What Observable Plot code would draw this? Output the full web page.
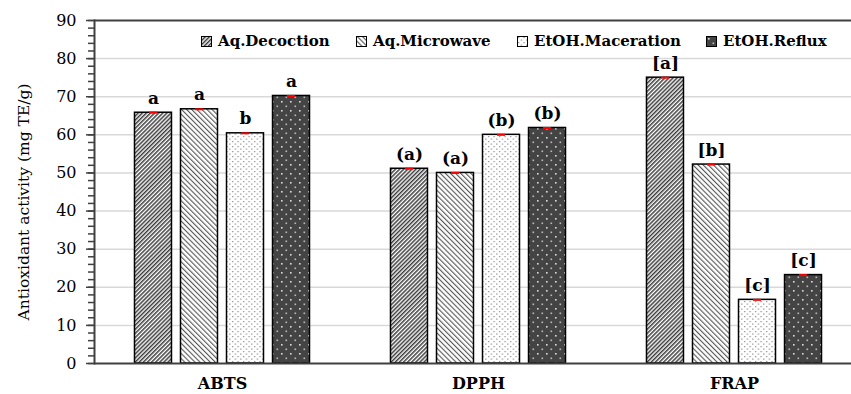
<!DOCTYPE html>
<html><head><meta charset="utf-8">
<script src="https://cdn.jsdelivr.net/npm/d3@7"></script>
<script src="https://cdn.jsdelivr.net/npm/@observablehq/plot@0.6"></script>
<style>
body{margin:0;background:#fff;}
#wrap{position:relative;width:851px;height:394px;font-family:"DejaVu Serif",serif;color:#000;}
#legend .item{position:absolute;top:33px;height:16px;display:flex;align-items:center;font-weight:bold;font-size:15px;white-space:nowrap;}
#legend svg{margin-right:6px;}
#ytitle{position:absolute;left:24px;top:202px;transform:translate(-50%,-50%) rotate(-90deg);font-size:15.5px;white-space:nowrap;}
</style></head><body>
<svg width="0" height="0" style="position:absolute">
<defs>
  <pattern id="pat0" patternUnits="userSpaceOnUse" width="2.9" height="2.9" patternTransform="rotate(45)">
    <rect width="2.9" height="2.9" fill="#fff"/><rect width="1.5" height="2.9" fill="#3c3c3c"/>
  </pattern>
  <pattern id="pat1" patternUnits="userSpaceOnUse" width="3.6" height="3.6" patternTransform="rotate(-45)">
    <rect width="3.6" height="3.6" fill="#fff"/><rect width="1.1" height="3.6" fill="#555"/>
  </pattern>
  <pattern id="pat2" patternUnits="userSpaceOnUse" width="5.5" height="5">
    <rect width="5.5" height="5" fill="#fff"/><rect x="1" y="1" width="1.2" height="1.2" fill="#888"/><rect x="3.75" y="3.5" width="1.2" height="1.2" fill="#888"/>
  </pattern>
  <pattern id="pat3" patternUnits="userSpaceOnUse" width="9" height="9">
    <rect width="9" height="9" fill="#444"/><rect x="2" y="2" width="1.6" height="1.6" fill="#ddd"/><rect x="6.5" y="6.5" width="1.6" height="1.6" fill="#bbb"/>
  </pattern>
</defs></svg>
<div id="wrap"><div id="legend"></div><div id="ytitle">Antioxidant activity (mg TE/g)</div></div>
<script>
const assays = ["ABTS", "DPPH", "FRAP"];
const methods = ["Aq.Decoction", "Aq.Microwave", "EtOH.Maceration", "EtOH.Reflux"];
const abtsValues = [65.8, 66.7, 60.4, 70.2];
const dpphValues = [51.1, 50.0, 60.0, 61.8];
const frapValues = [75.0, 52.2, 16.7, 23.2];
const abtsLetters = ["a", "a", "b", "a"];
const dpphLetters = ["(a)", "(a)", "(b)", "(b)"];
const frapLetters = ["[a]", "[b]", "[c]", "[c]"];
const yTicks = [0, 10, 20, 30, 40, 50, 60, 70, 80, 90];
const yMinorTicks = d3.range(0, 91, 2);
const gridValues = [10, 20, 30, 40, 50, 60, 70, 80];
const legendLeft = [201, 356, 517, 706];

const valuesByAssay = [abtsValues, dpphValues, frapValues];
const lettersByAssay = [abtsLetters, dpphLetters, frapLetters];
const data = [];
assays.forEach((a, i) => methods.forEach((m, j) => data.push({assay: a, method: m, value: valuesByAssay[i][j], letter: lettersByAssay[i][j]})));
const fills = methods.map((m, i) => `url(#pat${i})`);

const chart = Plot.plot({
  width: 851, height: 394,
  marginLeft: 94, marginRight: -11, marginTop: 20, marginBottom: 31,
  style: {fontFamily: "'DejaVu Serif', serif", fontSize: "15px", color: "#000", background: "transparent", overflow: "visible"},
  fx: {domain: assays, padding: 0, label: null, round: false},
  x: {domain: methods, paddingInner: 0.196, paddingOuter: 0.88, axis: null, round: false},
  y: {domain: [0, 90], label: null},
  color: {type: "ordinal", domain: methods, range: fills},
  marks: [
    Plot.ruleY(gridValues, {stroke: "#d9d9d9", strokeWidth: 1.5}),
    Plot.barY(data, {fx: "assay", x: "method", y: "value", fill: "method", stroke: "#000", strokeWidth: 1.5}),
    Plot.tickY(data, {fx: "assay", x: "method", y: "value", stroke: "#ff0000", strokeWidth: 2, insetLeft: 14.5, insetRight: 14.5}),
    Plot.text(data, {fx: "assay", x: "method", y: "value", text: "letter", lineAnchor: "bottom", dy: -9, fontWeight: "bold", fontSize: 17}),
    Plot.ruleY([0, 90], {stroke: "#404040", strokeWidth: 2}),
    Plot.axisY({ticks: yMinorTicks, tickSize: 6, text: null, label: null, stroke: "#404040", strokeWidth: 1.5}),
    Plot.axisY({ticks: yTicks, tickSize: 8, tickPadding: 10, label: null, stroke: "#404040", strokeWidth: 1.5, fontSize: 16}),
    Plot.frame({anchor: "left", facetAnchor: "left", stroke: "#404040", strokeWidth: 2}),
    Plot.axisFx({anchor: "bottom", tickSize: 0, tickPadding: 14, label: null, fontWeight: "bold", fontSize: 16})
  ]
});
const wrap = document.getElementById("wrap");
wrap.insertBefore(chart, wrap.firstChild);

const legend = document.getElementById("legend");
methods.forEach((m, i) => {
  const item = document.createElement("div");
  item.className = "item";
  item.style.left = legendLeft[i] + "px";
  item.innerHTML = `<svg width="11" height="11"><rect x="0.5" y="0.5" width="10" height="10" fill="${fills[i]}" stroke="#000" stroke-width="1"/></svg>`;
  item.appendChild(document.createTextNode(m));
  legend.appendChild(item);
});
</script>
</body></html>
